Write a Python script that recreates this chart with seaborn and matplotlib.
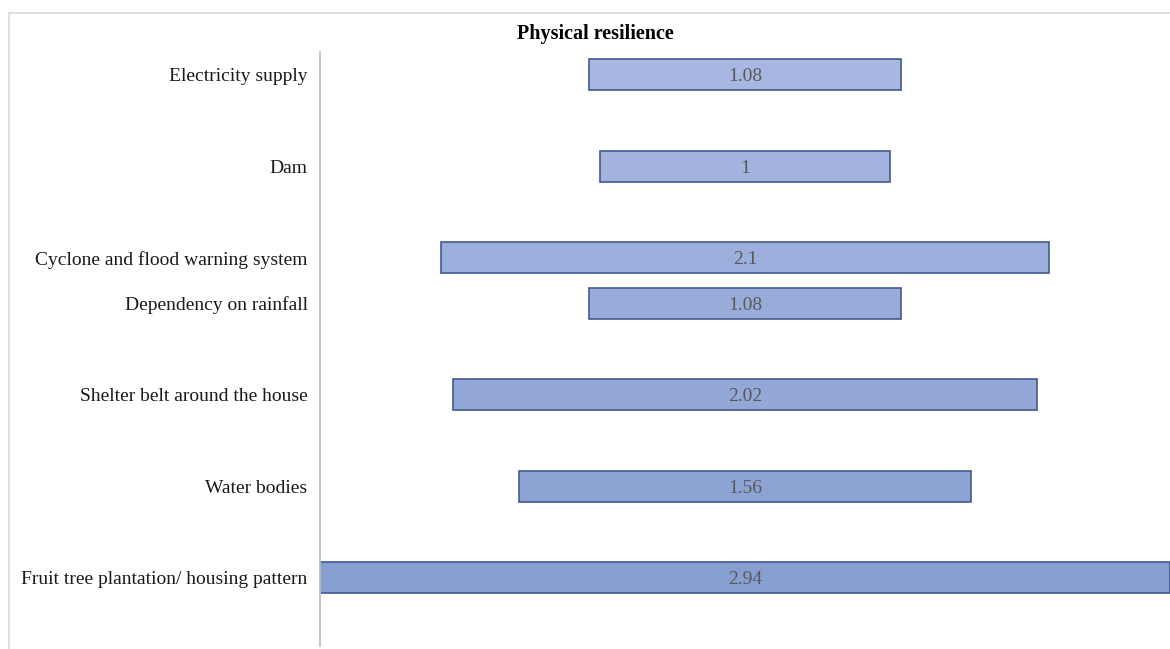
import matplotlib
matplotlib.use('Agg')
import matplotlib.pyplot as plt
import seaborn as sns
import pandas as pd
import numpy as np
from matplotlib.patches import Rectangle

categories = ["Electricity supply", "Dam", "Cyclone and flood warning system",
              "Dependency on rainfall", "Shelter belt around the house",
              "Water bodies", "Fruit tree plantation/ housing pattern"]
values = [1.08, 1, 2.1, 1.08, 2.02, 1.56, 2.94]
slots = [0, 2, 4, 5, 7, 9, 11]
title = "Physical resilience"

sns.set_theme(style='white')
plt.rcParams['font.family'] = ['Liberation Serif', 'DejaVu Serif']

W, H = 1170, 649
fig = plt.figure(figsize=(W / 100, H / 100), dpi=100)
ax = fig.add_axes([320 / W, 3 / H, 850 / W, 594 / H])

df = pd.DataFrame({'slot': slots, 'value': values, 'cat': categories})
top = np.array([168, 183, 225]) / 255
bot = np.array([135, 159, 208]) / 255
colors = {c: tuple(top + (bot - top) * s / 11) for c, s in zip(categories, slots)}

sns.barplot(data=df, x='value', y='slot', orient='h', native_scale=True,
            width=0.68, hue='cat', palette=colors, dodge=False, legend=False,
            saturation=1, edgecolor='#44598f', linewidth=1.2, ax=ax)

center = max(values) / 2
for p in ax.patches:
    w = p.get_width()
    p.set_x(center - w / 2)

for s, v in zip(slots, values):
    ax.text(center, s, f"{v:g}", ha='center', va='center_baseline',
            fontsize=14, color='#595959')

ax.set_xlim(0, max(values))
ax.set_ylim(12.5, -0.5)
ax.set_yticks(slots)
ax.set_yticklabels(categories, fontsize=14, color='#1a1a1a')
ax.set_xticks([])
ax.set_xlabel('')
ax.set_ylabel('')
ax.tick_params(axis='y', length=0, pad=9)
for side in ['top', 'right', 'bottom']:
    ax.spines[side].set_visible(False)
ax.spines['left'].set_color('#bfbfbf')
ax.spines['left'].set_linewidth(1.3)
ax.patch.set_alpha(0)

fig.text(595 / W, 1 - 34 / H, title, ha='center', va='center',
         fontsize=14.5, fontweight='bold', color='#000000')

fig.patches.append(Rectangle((9 / W, -0.1), 1.2, 1 - 13 / H + 0.1,
                             transform=fig.transFigure, fill=False,
                             edgecolor='#d9d9d9', linewidth=1.2, zorder=-1))

fig.savefig('out.png', dpi=100)
